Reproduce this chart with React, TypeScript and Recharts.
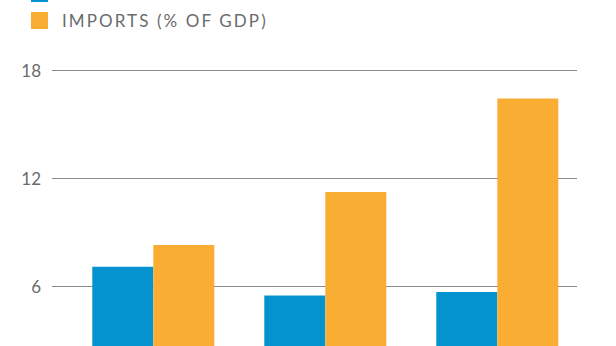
import React from 'react';
import { BarChart, Bar, XAxis, YAxis, CartesianGrid } from 'recharts';

const categories = ['A', 'B', 'C'];
const unemploymentRate = [7.1, 5.5, 5.7];
const importsPctGdp = [8.3, 11.25, 16.45];
const yTicks = [0, 6, 12, 18];
const seriesNames = ['UNEMPLOYMENT RATE', 'IMPORTS (% OF GDP)'];
const seriesColors = ['#0593CF', '#F9AE33'];

const data = categories.map((c, i) => ({
  name: c,
  unemployment: unemploymentRate[i],
  imports: importsPctGdp[i],
}));

const OFF = 30;
const FONT = 'Lato, "Open Sans", sans-serif';

export default function App() {
  return (
    <div style={{ position: 'absolute', left: 0, top: -OFF, width: 616, height: 440 }}>
      <div style={{ position: 'absolute', left: 31, top: 15, fontFamily: FONT }}>
        {seriesNames.map((n, i) => (
          <div key={n} style={{ display: 'flex', alignItems: 'center', height: 17, marginBottom: 10 }}>
            <div style={{ width: 17, height: 17, background: seriesColors[i], marginRight: 14 }} />
            <span style={{ fontSize: 17, color: '#6a6b6d', letterSpacing: 2.1, lineHeight: '17px' }}>{n}</span>
          </div>
        ))}
      </div>
      <BarChart
        width={616}
        height={430}
        data={data}
        margin={{ top: 70.5 + OFF, right: 39, left: 0, bottom: 5.5 }}
        barCategoryGap="14.3%"
        barGap={0}
      >
        <CartesianGrid vertical={false} stroke="#8a8a8a" strokeWidth={1} />
        <XAxis dataKey="name" hide padding={{ left: 15.7, right: -6.7 }} />
        <YAxis
          domain={[0, 18]}
          ticks={yTicks}
          width={52}
          axisLine={false}
          tickLine={false}
          tickMargin={5}
          tick={{ fill: '#6a6b6d', fontSize: 17, fontFamily: FONT }}
        />
        <Bar dataKey="unemployment" fill={seriesColors[0]} isAnimationActive={false} />
        <Bar dataKey="imports" fill={seriesColors[1]} isAnimationActive={false} />
      </BarChart>
    </div>
  );
}
